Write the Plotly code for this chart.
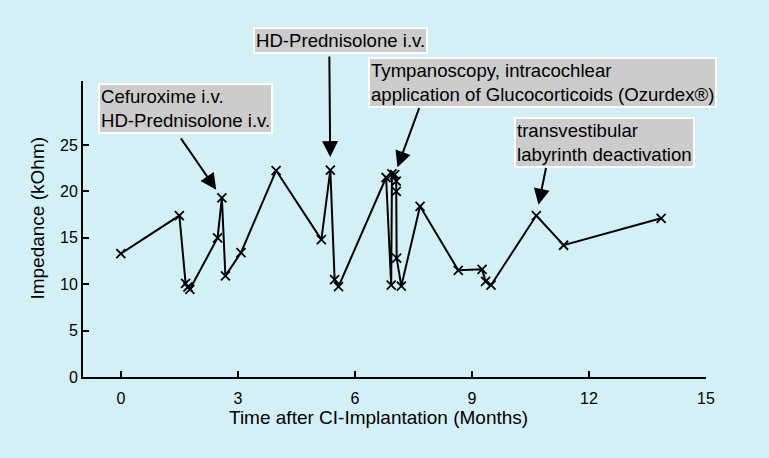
import plotly.graph_objects as go

# Data (months after CI implantation, impedance kOhm)
months = [0.0, 1.5, 1.66, 1.72, 1.77, 2.48, 2.59, 2.68, 3.08, 3.98,
          5.14, 5.37, 5.48, 5.58, 6.8, 6.93, 6.95, 7.02, 7.06, 7.06,
          7.07, 7.19, 7.67, 8.65, 9.26, 9.35, 9.49, 10.65, 11.35, 13.85]
impedance = [13.3, 17.4, 10.1, 9.7, 9.45, 15.0, 19.3, 10.9, 13.4, 22.25,
             14.8, 22.3, 10.5, 9.75, 21.5, 9.9, 21.9, 21.8, 21.1, 20.0,
             12.8, 9.8, 18.4, 11.5, 11.6, 10.3, 9.9, 17.4, 14.2, 17.1]
x_ticks = [0, 3, 6, 9, 12, 15]
y_ticks = [0, 5, 10, 15, 20, 25]
x_title = "Time after CI-Implantation (Months)"
y_title = "Impedance (kOhm)"

# Events: (label, target point index, box top-left in paper coords, arrow tail offset px, standoff)
events = [
    ("Cefuroxime i.v.<br>HD-Prednisolone i.v.", 6, (0.0241, 0.993), (-42, -61), 10),
    ("HD-Prednisolone i.v.", 11, (0.2729, 1.1824), (-1, -115), 13),
    ("Tympanoscopy, intracochlear<br>application of Glucocorticoids (Ozurdex®)", 17, (0.4575, 1.0811), (25, -68), 8),
    ("transvestibular<br>labyrinth deactivation", 27, (0.6918, 0.8784), (10, -49), 11),
]

FONT = "Liberation Sans, Arial, sans-serif"
BG = "#d4f0f7"

fig = go.Figure()
fig.add_trace(go.Scatter(
    x=months, y=impedance, mode="lines+markers",
    line=dict(color="black", width=2),
    marker=dict(symbol="x-thin", size=9, line=dict(color="black", width=1.8)),
    showlegend=False, cliponaxis=False,
))

annotations = []
for text, idx, (bx, by), (ax, ay), so in events:
    annotations.append(dict(
        x=bx, y=by, xref="paper", yref="paper", text=text, showarrow=False,
        xanchor="left", yanchor="top", align="left",
        font=dict(family=FONT, size=18.6, color="black"),
        bgcolor="#cccccc", bordercolor="white", borderwidth=2, borderpad=1,
    ))
    annotations.append(dict(
        x=months[idx], y=impedance[idx], xref="x", yref="y", text="",
        showarrow=True, ax=ax, ay=ay, axref="pixel", ayref="pixel",
        arrowhead=2, arrowsize=1.6, arrowwidth=2, arrowcolor="black",
        standoff=so,
    ))

# axis titles as annotations (offset as in the original)
annotations.append(dict(
    x=0.475, y=-0.1385, xref="paper", yref="paper", text=x_title, showarrow=False,
    xanchor="center", yanchor="middle", font=dict(family=FONT, size=19, color="black"),
))
annotations.append(dict(
    x=-0.073, y=0.537, xref="paper", yref="paper", text=y_title, showarrow=False,
    xanchor="center", yanchor="middle", textangle=-90,
    font=dict(family=FONT, size=19, color="black"),
))

fig.update_layout(
    width=769, height=458,
    paper_bgcolor=BG, plot_bgcolor=BG,
    margin=dict(l=83, r=63, t=81, b=81),
    font=dict(family=FONT, size=16, color="black"),
    annotations=annotations,
    xaxis=dict(
        range=[-0.97, 15], tickvals=x_ticks, ticktext=[str(v) for v in x_ticks],
        showgrid=False, zeroline=False, showline=True, linecolor="black", linewidth=2,
        ticks="inside", ticklen=6, tickwidth=1.5, tickcolor="black",
        tickfont=dict(size=16), ticklabelstandoff=6,
    ),
    yaxis=dict(
        range=[0, 31.9], tickvals=y_ticks, ticktext=[str(v) for v in y_ticks],
        showgrid=False, zeroline=False, showline=True, linecolor="black", linewidth=2,
        ticks="inside", ticklen=6, tickwidth=1.5, tickcolor="black",
        tickfont=dict(size=16),
    ),
)

fig.write_html(
    "out.html",
    config={"displayModeBar": False},
    post_script="document.body.style.margin='0';document.body.style.overflow='hidden';",
)
